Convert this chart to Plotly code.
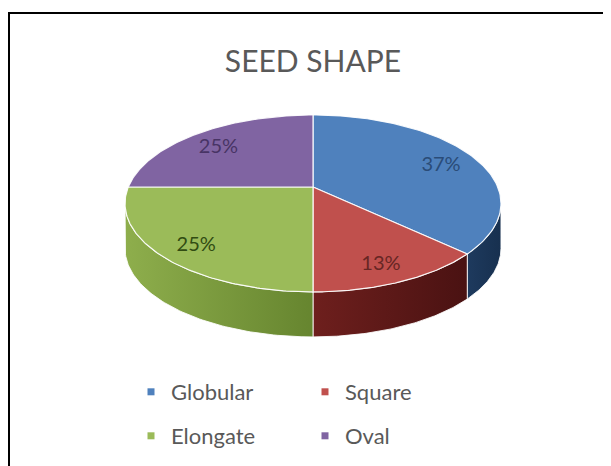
import numpy as np
import plotly.graph_objects as go

# ---- data ----
categories = ["Globular", "Square", "Elongate", "Oval"]
values = [37, 13, 25, 25]
labels = ["37%", "13%", "25%", "25%"]
top_colors = ["#4F81BD", "#C0504D", "#9BBB59", "#8064A2"]
side_colors = [("#1E3A5E", "#17304F"), ("#6E1F1D", "#4A1212"),
               ("#8EAE4C", "#66852F"), ("#5E4A7A", "#4A3866")]
text_colors = ["#2A4C78", "#672624", "#314C12", "#483465"]
title_text = "SEED SHAPE"

# ---- geometry (axis units == page pixels) ----
W, H = 611, 466
OFF = 8  # default page body margin
cx, cy = 313, 187
Sx, Sy = 184.7, 85.4
p = 0.186
D = 45
LABEL_R = 0.8
LABEL_DROP = 5


def proj(theta, r=1.0):
    u = r * np.cos(theta)
    v = r * np.sin(theta)
    w = 1 + p * v
    return cx + Sx * u / w, cy - Sy * v / w


def px2paper_x(x):
    return (x - OFF) / W


def px2paper_y(y):
    return 1 - (y - OFF) / H


fig = go.Figure()

total = float(sum(values))
starts, ends = [], []
a = np.pi / 2
for v in values:
    b = a - 2 * np.pi * v / total
    starts.append(a)
    ends.append(b)
    a = b

vis_hi = -np.arcsin(p)
vis_lo = -np.pi + np.arcsin(p)

# side faces
for i in range(len(values)):
    hi = min(starts[i], vis_hi)
    lo = max(ends[i], vis_lo)
    if hi <= lo:
        continue
    t = np.linspace(hi, lo, 80)
    xs, ys = proj(t)
    px = np.concatenate([xs, xs[::-1], xs[:1]])
    py = np.concatenate([ys, ys[::-1] + D, ys[:1]])
    fig.add_trace(go.Scatter(
        x=px, y=py, mode="lines", fill="toself",
        line=dict(color="rgba(255,255,255,0.85)", width=1),
        fillgradient=dict(type="horizontal",
                          colorscale=[[0, side_colors[i][0]], [1, side_colors[i][1]]]),
        hoverinfo="skip", showlegend=False))

# top faces
for i in range(len(values)):
    t = np.linspace(starts[i], ends[i], 120)
    xs, ys = proj(t)
    px = np.concatenate([[cx], xs, [cx]])
    py = np.concatenate([[cy], ys, [cy]])
    fig.add_trace(go.Scatter(
        x=px, y=py, mode="lines", fill="toself", fillcolor=top_colors[i],
        line=dict(color="rgba(255,255,255,0.9)", width=1.2),
        hoverinfo="skip", showlegend=False))

# percentage labels
mids = [(s + e) / 2 for s, e in zip(starts, ends)]
lx, ly = proj(np.array(mids), LABEL_R)
fig.add_trace(go.Scatter(
    x=lx, y=ly + LABEL_DROP, mode="text", text=labels,
    textfont=dict(family="Lato", size=20, color=text_colors),
    hoverinfo="skip", showlegend=False))

# legend entries
for i, c in enumerate(categories):
    fig.add_trace(go.Scatter(
        x=[None], y=[None], mode="markers", name=c,
        marker=dict(symbol="square", size=7, color=top_colors[i]),
        legend="legend" if i < 2 else "legend2"))

leg_common = dict(orientation="h", entrywidth=129, xanchor="left", yanchor="middle",
                  font=dict(family="Lato", size=22, color="#595959"),
                  bgcolor="rgba(0,0,0,0)", traceorder="normal")

fig.update_layout(
    width=W, height=H,
    margin=dict(l=0, r=0, t=0, b=0),
    paper_bgcolor="white", plot_bgcolor="white",
    title=dict(text=title_text, x=px2paper_x(313), xanchor="center", y=px2paper_y(61),
               yanchor="middle", font=dict(family="Lato", size=30, color="#595959")),
    xaxis=dict(range=[OFF, W + OFF], visible=False, fixedrange=True),
    yaxis=dict(range=[H + OFF, OFF], visible=False, fixedrange=True),
    legend=dict(x=px2paper_x(152 - 21), y=px2paper_y(392), **leg_common),
    legend2=dict(x=px2paper_x(152 - 21), y=px2paper_y(436), **leg_common),
    shapes=[dict(type="rect", xref="x", yref="y", x0=9, y0=13, x1=W + 20, y1=H + 20,
                 line=dict(color="black", width=2), layer="above")],
)

fig.write_html("out.html")
